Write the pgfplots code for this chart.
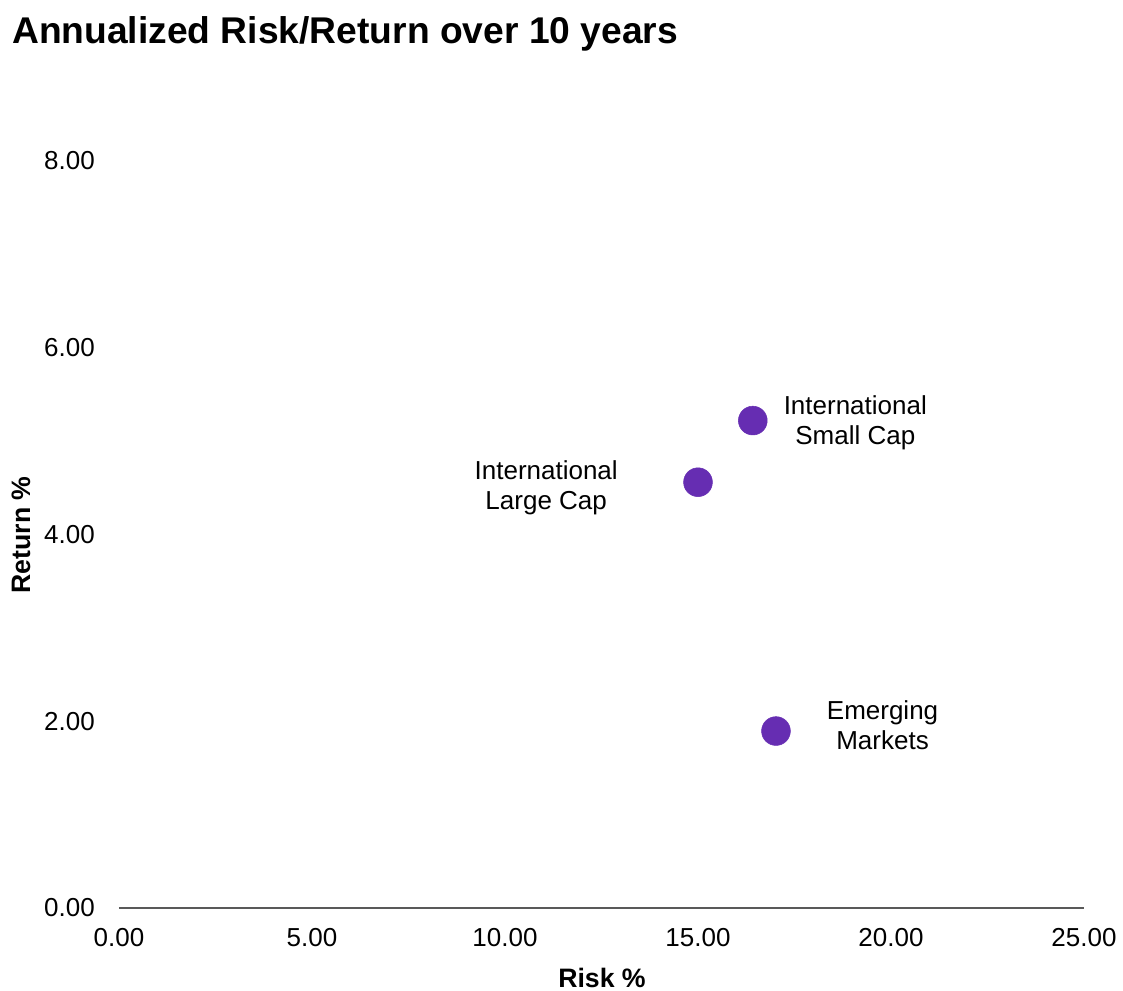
\documentclass[border=0pt]{standalone}
\usepackage{pgfplots}
\pgfplotsset{compat=1.18}
\usepackage{fontspec}
\setmainfont{Liberation Sans}
\definecolor{pt}{HTML}{662DB2}
\definecolor{axgray}{HTML}{595959}
\begin{document}
\begin{tikzpicture}
\path[use as bounding box] (-89.25pt,-62.25pt) rectangle (753pt,681pt);
\begin{axis}[
  at={(0,0)}, anchor=origin,
  scale only axis,
  width=723.75pt, height=560.25pt,
  xmin=0, xmax=25, ymin=0, ymax=8,
  xtick={0,5,10,15,20,25}, ytick={0,2,4,6,8},
  axis x line*=bottom, axis y line=none,
  x axis line style={axgray, line width=1pt, -},
  tick style={draw=none},
  ytick style={draw=none},
  /pgf/number format/assume math mode=true,
  /pgf/number format/.cd, fixed, fixed zerofill, precision=2, /pgfplots/.cd,
  ticklabel style={font=\fontsize{19.5}{23}\selectfont},
  xticklabel style={yshift=-12pt},
  clip=false,
]
\addplot[only marks, mark=*, mark size=10.8pt, mark options={draw=pt, fill=pt}] coordinates {
  (16.42,5.22) (15.0,4.56) (17.02,1.895)
};
\pgfplotsextra{
  \foreach \yy/\lab in {0/0.00,2/2.00,4/4.00,6/6.00,8/8.00}{
    \node[anchor=east, inner sep=0pt, font=\fontsize{19.5}{23}\selectfont] at (axis cs:0,\yy) [xshift=-18pt] {\lab};
  }
}
\node[anchor=west, align=center, inner sep=0pt, font=\fontsize{19.5}{22.5}\selectfont] at (axis cs:16.42,5.22) [xshift=23pt, yshift=-1.5pt] {International\\Small Cap};
\node[anchor=east, align=center, inner sep=0pt, font=\fontsize{19.5}{22.5}\selectfont] at (axis cs:15.0,4.56) [xshift=-60pt, yshift=-4.5pt] {International\\Large Cap};
\node[anchor=west, align=center, inner sep=0pt, font=\fontsize{19.5}{22.5}\selectfont] at (axis cs:17.02,1.895) [xshift=38pt, yshift=4.5pt] {Emerging\\Markets};
\end{axis}
\node[anchor=base west, inner sep=0pt, font=\bfseries\fontsize{27.9}{32}\selectfont] at (-80.25pt, 648pt) {Annualized Risk/Return over 10 years};
\node[rotate=90, inner sep=0pt, font=\bfseries\fontsize{20}{24}\selectfont] at (-73.5pt, 279.75pt) {Return \%};
\node[inner sep=0pt, font=\bfseries\fontsize{20}{24}\selectfont] at (362.25pt, -52.5pt) {Risk \%};
\end{tikzpicture}
\end{document}
